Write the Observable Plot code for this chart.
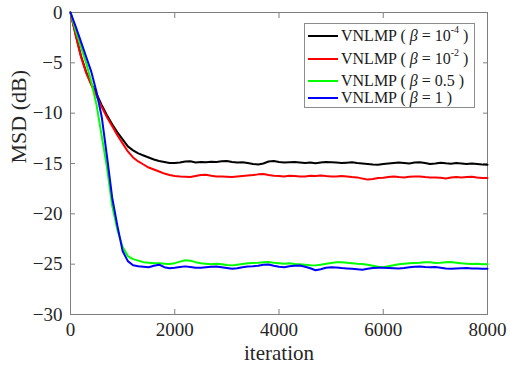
<!DOCTYPE html>
<html>
<head>
<meta charset="utf-8">
<script src="https://cdn.jsdelivr.net/npm/d3@7"></script>
<script src="https://cdn.jsdelivr.net/npm/@observablehq/plot@0.6"></script>
<style>
  body { margin: 0; background: #fff; }
  #wrap { position: relative; width: 514px; height: 369px; }
  #wrap svg text { font-family: "Liberation Serif", "Tinos", "Times New Roman", "DejaVu Serif", serif; }
  #legend { position: absolute; left: 304px; top: 23px; width: 169px; height: 83px; border: 1px solid #8c8c8c; background: #fff; font-family: "Liberation Serif", "Tinos", "Times New Roman", "DejaVu Serif", serif; font-size: 16px; color: #1a1a1a; }
  .row { position: absolute; left: 3px; height: 20px; display: flex; align-items: center; white-space: nowrap; }
  .sw { width: 30px; height: 2.2px; margin-right: 3px; }
  .row i { font-style: italic; }
  .row sup { font-size: 10px; position: relative; top: -2px; }
</style>
</head>
<body>
<div id="wrap"></div>
<script>
const iterations = [0,100,200,300,400,500,600,700,800,900,1000,1100,1200,1300,1400,1500,1600,1700,1800,1900,2000,2100,2200,2300,2400,2500,2600,2700,2800,2900,3000,3100,3200,3300,3400,3500,3600,3700,3800,3900,4000,4100,4200,4300,4400,4500,4600,4700,4800,4900,5000,5100,5200,5300,5400,5500,5600,5700,5800,5900,6000,6100,6200,6300,6400,6500,6600,6700,6800,6900,7000,7100,7200,7300,7400,7500,7600,7700,7800,7900,8000];

const msdBeta1e4 = [0,-2.2,-4.3,-5.9,-7.1,-8.1,-9.2,-10.2,-11.1,-11.9,-12.6,-13.3,-13.7,-14.0,-14.2,-14.4,-14.6,-14.75,-14.85,-14.95,-14.95,-14.9,-14.8,-14.78,-14.9,-14.85,-14.88,-14.82,-14.85,-14.78,-14.76,-14.85,-14.9,-14.88,-14.95,-15.05,-15.1,-15.0,-14.8,-14.75,-14.85,-14.9,-14.88,-14.85,-14.9,-14.95,-14.9,-14.98,-14.9,-14.85,-14.88,-14.9,-14.95,-14.92,-14.88,-14.95,-15.0,-15.05,-15.1,-15.12,-15.05,-15.0,-14.95,-14.9,-14.95,-15.0,-14.9,-14.88,-14.95,-15.05,-15.0,-14.92,-14.98,-15.02,-14.95,-15.0,-15.05,-15.0,-15.05,-15.1,-15.12];

const msdBeta1e2 = [0,-2.3,-4.4,-6.0,-7.2,-8.3,-9.4,-10.4,-11.3,-12.2,-13.0,-13.8,-14.4,-14.8,-15.1,-15.4,-15.6,-15.8,-16.0,-16.15,-16.25,-16.3,-16.32,-16.35,-16.25,-16.15,-16.12,-16.22,-16.3,-16.28,-16.32,-16.35,-16.3,-16.25,-16.2,-16.15,-16.08,-16.05,-16.15,-16.22,-16.25,-16.28,-16.22,-16.25,-16.3,-16.28,-16.22,-16.25,-16.2,-16.25,-16.28,-16.3,-16.25,-16.3,-16.35,-16.38,-16.5,-16.6,-16.55,-16.45,-16.42,-16.35,-16.3,-16.35,-16.38,-16.32,-16.3,-16.28,-16.35,-16.4,-16.38,-16.42,-16.48,-16.4,-16.35,-16.38,-16.35,-16.32,-16.4,-16.45,-16.45];

const msdBeta05 = [0,-1.8,-3.4,-5.0,-6.9,-9.2,-12.3,-15.4,-19.2,-21.6,-23.3,-24.2,-24.5,-24.65,-24.8,-24.85,-24.9,-24.92,-24.95,-24.98,-24.9,-24.75,-24.62,-24.65,-24.8,-24.9,-24.95,-25.0,-24.95,-25.0,-25.08,-25.12,-25.05,-24.98,-24.9,-24.88,-24.85,-24.8,-24.78,-24.85,-24.9,-24.95,-24.92,-24.98,-25.02,-25.05,-25.1,-25.12,-25.05,-24.95,-24.88,-24.82,-24.8,-24.85,-24.9,-24.95,-24.98,-25.05,-25.15,-25.25,-25.3,-25.2,-25.1,-25.0,-24.95,-24.92,-24.88,-24.85,-24.8,-24.82,-24.88,-24.85,-24.8,-24.78,-24.85,-24.92,-24.95,-24.98,-24.95,-25.0,-25.02];

const msdBeta1 = [0,-1.4,-2.9,-4.4,-5.9,-7.9,-10.4,-14.3,-18.4,-21.2,-23.7,-24.7,-25.1,-25.2,-25.25,-25.3,-25.15,-25.05,-25.3,-25.4,-25.35,-25.28,-25.22,-25.28,-25.35,-25.36,-25.3,-25.25,-25.23,-25.3,-25.38,-25.45,-25.4,-25.3,-25.23,-25.2,-25.15,-25.05,-25.03,-25.15,-25.25,-25.3,-25.2,-25.15,-25.13,-25.25,-25.4,-25.6,-25.5,-25.35,-25.3,-25.32,-25.38,-25.42,-25.46,-25.5,-25.55,-25.45,-25.38,-25.35,-25.36,-25.38,-25.4,-25.42,-25.38,-25.3,-25.25,-25.23,-25.28,-25.3,-25.29,-25.35,-25.42,-25.46,-25.42,-25.4,-25.39,-25.42,-25.44,-25.45,-25.46];

const seriesNames = ["β = 1e-4", "β = 1e-2", "β = 0.5", "β = 1"];
const seriesColors = ["#000000", "#ff0000", "#00ff00", "#0000ff"];
const legendBase = ["10", "10", "0.5", "1"];
const legendExp = ["-4", "-2", "", ""];
const xTicks = [0, 2000, 4000, 6000, 8000];
const yTicks = [-30, -25, -20, -15, -10, -5, 0];

const allSeries = [msdBeta1e4, msdBeta1e2, msdBeta05, msdBeta1];
const rows = [];
allSeries.forEach((vals, s) => vals.forEach((v, i) => rows.push({ s: seriesNames[s], it: iterations[i], msd: v })));

const gray = "#7f7f7f";
const fmt = d3.format("d");
const chart = Plot.plot({
  width: 514, height: 369,
  marginLeft: 70, marginRight: 27, marginTop: 12, marginBottom: 55,
  style: { color: "#262626", background: "#fff", overflow: "visible" },
  x: { domain: [0, 8000] },
  y: { domain: [-30, 0] },
  color: { domain: seriesNames, range: seriesColors },
  marks: [
    Plot.frame({ stroke: gray }),
    Plot.axisX(xTicks, { anchor: "bottom", tickSize: -5, tickPadding: 13, tickFormat: fmt, fontSize: 19, stroke: gray, label: null }),
    Plot.axisX(xTicks, { anchor: "top", tickSize: -5, tickFormat: () => "", stroke: gray, label: null }),
    Plot.axisY(yTicks, { anchor: "left", tickSize: -5, tickPadding: 13, tickFormat: fmt, fontSize: 19, stroke: gray, label: null }),
    Plot.axisY(yTicks, { anchor: "right", tickSize: -5, tickFormat: () => "", stroke: gray, label: null }),
    Plot.line(rows, { x: "it", y: "msd", z: "s", stroke: "s", strokeWidth: 2 }),
    Plot.text(["MSD (dB)"], { frameAnchor: "left", dx: -52, rotate: -90, fontSize: 22, fill: "#262626" }),
    Plot.text(["iteration"], { frameAnchor: "bottom", dy: 45, fontSize: 21, fill: "#262626" })
  ]
});
const wrap = document.getElementById("wrap");
wrap.appendChild(chart);

const legend = document.createElement("div");
legend.id = "legend";
const rowTops = ["2px", "25px", "47px", "64px"];
seriesNames.forEach((n, i) => {
  const r = document.createElement("div");
  r.className = "row";
  r.style.top = rowTops[i];
  const sw = document.createElement("span");
  sw.className = "sw";
  sw.style.background = seriesColors[i];
  r.appendChild(sw);
  const t = document.createElement("span");
  t.innerHTML = "VNLMP ( <i>β</i> = " + legendBase[i] + (legendExp[i] ? "<sup>" + legendExp[i] + "</sup>" : "") + " )";
  r.appendChild(t);
  legend.appendChild(r);
});
wrap.appendChild(legend);
</script>
</body>
</html>
